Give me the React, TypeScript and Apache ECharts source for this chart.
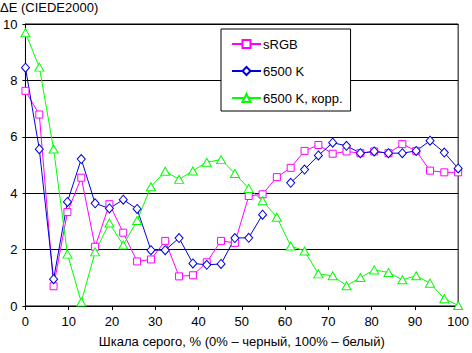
import React, { useEffect, useRef } from "react";
import * as echarts from "echarts";

const grayLevels = [0, 3.2, 6.5, 9.7, 12.9, 16.1, 19.4, 22.6, 25.8, 29.0, 32.3, 35.5, 38.7, 41.9, 45.2, 48.4, 51.6, 54.8, 58.1, 61.3, 64.5, 67.7, 71.0, 74.2, 77.4, 80.6, 83.9, 87.1, 90.3, 93.5, 96.8, 100];

const srgb = [7.63, 6.79, 0.70, 3.33, 4.55, 2.10, 3.61, 2.60, 1.58, 1.65, 2.31, 1.05, 1.09, 1.55, 2.31, 2.24, 3.90, 3.96, 4.57, 4.90, 5.50, 5.71, 5.40, 5.48, 5.42, 5.48, 5.42, 5.74, 5.50, 4.80, 4.74, 4.74];

const k6500 = [8.45, 5.56, 0.95, 3.69, 5.21, 3.64, 3.46, 3.77, 3.44, 1.98, 1.98, 2.41, 1.51, 1.46, 1.49, 2.41, 2.42, 3.24, null, 4.37, 4.84, 5.34, 5.79, 5.68, 5.42, 5.48, 5.42, 5.42, 5.50, 5.86, 5.44, 4.88];

const k6500corr = [9.69, 8.47, 5.57, 1.84, 0.14, 1.92, 2.94, 2.16, 3.03, 4.23, 4.78, 4.49, 4.79, 5.10, 5.19, 4.70, 4.17, 3.73, 3.15, 2.13, 1.95, 1.14, 1.07, 0.72, 1.01, 1.28, 1.19, 0.93, 1.07, 0.81, 0.26, 0.02];

const seriesNames = ["sRGB", "6500 K", "6500 K, корр."];
const yTitle = "ΔE (CIEDE2000)";
const xTitle = "Шкала серого, % (0% – черный, 100% – белый)";

const FONT = "'Liberation Sans', Arial, sans-serif";

function pairs(vals: (number | null)[]) {
  return grayLevels.map((x, i) => [x, vals[i] === null ? null : vals[i]]);
}

export default function App() {
  const ref = useRef<HTMLDivElement>(null);
  useEffect(() => {
    if (!ref.current) return;
    const chart = echarts.init(ref.current, null, { renderer: "svg" });
    const mk = (name: string, data: any, color: string, symbol: string, size: any) => ({
      name,
      type: "line",
      data,
      connectNulls: false,
      symbol,
      symbolSize: size,
      showAllSymbol: true,
      lineStyle: { color, width: 1 },
      itemStyle: { color: "#fff", borderColor: color, borderWidth: 1 },
    });
    chart.setOption({
      animation: false,
      textStyle: { fontFamily: FONT, color: "#000" },
      title: {
        text: yTitle,
        left: 0,
        top: 1,
        padding: 0,
        textStyle: { fontFamily: FONT, fontSize: 13, fontWeight: "normal", color: "#000" },
      },
      grid: {
        left: 23,
        right: 10,
        top: 24,
        bottom: 43,
        show: true,
        borderColor: "#000",
        borderWidth: 1,
        backgroundColor: "transparent",
      },
      legend: {
        orient: "vertical",
        left: 221,
        top: 29,
        padding: [8, 8, 6, 10],
        itemWidth: 29,
        itemHeight: 10,
        itemGap: 13,
        borderColor: "#000",
        borderWidth: 1,
        borderRadius: 0,
        backgroundColor: "#fff",
        textStyle: { fontFamily: FONT, fontSize: 13, color: "#000", padding: [0, 0, 0, -3], lineHeight: 14 },
        data: seriesNames,
      },
      xAxis: {
        type: "value",
        min: 0,
        max: 100,
        interval: 10,
        name: xTitle,
        nameLocation: "middle",
        nameGap: 29,
        nameTextStyle: { fontFamily: FONT, fontSize: 13, color: "#000" },
        axisLine: { show: true, lineStyle: { color: "#000", width: 1 } },
        axisTick: { show: true, inside: false, length: 4, lineStyle: { color: "#000" } },
        axisLabel: { fontFamily: FONT, fontSize: 13, color: "#000", margin: 9 },
        splitLine: { show: false },
      },
      yAxis: {
        type: "value",
        min: 0,
        max: 10,
        interval: 2,
        axisLine: { show: true, lineStyle: { color: "#000", width: 1 } },
        axisTick: { show: true, inside: false, length: 3, lineStyle: { color: "#000" } },
        axisLabel: { fontFamily: FONT, fontSize: 13, color: "#000", margin: 8 },
        splitLine: { show: true, lineStyle: { color: "#000", width: 1, type: "solid" } },
      },
      series: [
        mk(seriesNames[0], pairs(srgb), "#FF00FF", "rect", 7),
        mk(seriesNames[1], pairs(k6500), "#0000DD", "diamond", [8, 9]),
        mk(seriesNames[2], pairs(k6500corr), "#00FF00", "triangle", [9, 8]),
      ],
    });
    return () => chart.dispose();
  }, []);
  return (
    <div
      ref={ref}
      style={{ position: "fixed", left: 0, top: 0, width: 472, height: 353, background: "#fff" }}
    />
  );
}
